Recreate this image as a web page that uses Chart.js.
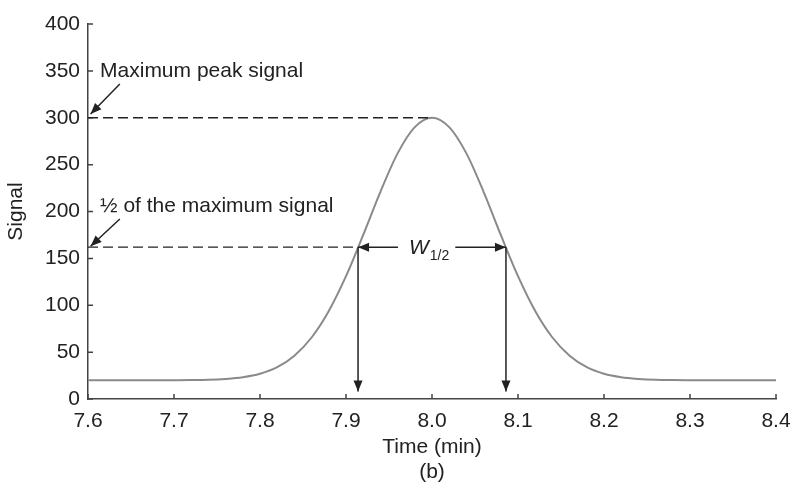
<!DOCTYPE html>
<html>
<head>
<meta charset="utf-8">
<script src="https://cdn.jsdelivr.net/npm/chart.js@4.4.0/dist/chart.umd.min.js"></script>
<style>
  html, body { margin: 0; padding: 0; background: #fff; }
  #wrap { width: 790px; height: 485px; }
</style>
</head>
<body>
<div id="wrap"><canvas id="chart-peak"></canvas></div>
<script>
// elution peak, time in minutes
var times = [7.60, 7.65, 7.70, 7.72, 7.74, 7.76, 7.78, 7.80, 7.82, 7.84, 7.86, 7.88,
             7.90, 7.92, 7.94, 7.96, 7.98, 8.00, 8.02, 8.04, 8.06, 8.08, 8.10, 8.12,
             8.14, 8.16, 8.18, 8.20, 8.22, 8.24, 8.26, 8.28, 8.30, 8.35, 8.40];
var signal = [20, 20, 20.1, 20.2, 20.5, 21.4, 23.2, 26.9, 33.9, 46.2, 65.6, 93.9,
              131, 175, 221, 262, 290, 300, 290, 262, 221, 175, 131, 93.9,
              65.6, 46.2, 33.9, 26.9, 23.2, 21.4, 20.5, 20.2, 20.1, 20, 20];
var xTicks = [7.6, 7.7, 7.8, 7.9, 8.0, 8.1, 8.2, 8.3, 8.4];
var yTicks = [0, 50, 100, 150, 200, 250, 300, 350, 400];

// marked levels and times
var peakTime = 8.0;
var peakSignal = 300;
var halfSignal = 162;
var halfTimes = [7.914, 8.086];

var FONT = "'Liberation Sans', Arial, sans-serif";
var INK = '#222';

function arrowHead(ctx, x1, y1, x2, y2) {
    var a = Math.atan2(y2 - y1, x2 - x1);
    var len = 11, w = 4.5;
    ctx.beginPath();
    ctx.moveTo(x2, y2);
    ctx.lineTo(x2 - len * Math.cos(a) + w * Math.sin(a), y2 - len * Math.sin(a) - w * Math.cos(a));
    ctx.lineTo(x2 - len * Math.cos(a) - w * Math.sin(a), y2 - len * Math.sin(a) + w * Math.cos(a));
    ctx.closePath();
    ctx.fill();
}

function arrow(ctx, x1, y1, x2, y2) {
    ctx.beginPath();
    ctx.moveTo(x1, y1);
    ctx.lineTo(x2, y2);
    ctx.stroke();
    arrowHead(ctx, x1, y1, x2, y2);
}

var annotations = {
    id: 'annotations',
    afterDraw: function (chart) {
        var ctx = chart.ctx;
        var x = chart.scales.x, y = chart.scales.y;
        var area = chart.chartArea;
        var px = function (v) { return x.getPixelForValue(v); };
        var py = function (v) { return y.getPixelForValue(v); };

        ctx.save();
        ctx.strokeStyle = '#444';
        ctx.lineWidth = 1.5;
        // inward tick marks
        ctx.beginPath();
        xTicks.forEach(function (t) {
            ctx.moveTo(px(t), area.bottom);
            ctx.lineTo(px(t), area.bottom - 5);
        });
        yTicks.forEach(function (t) {
            ctx.moveTo(area.left, py(t));
            ctx.lineTo(area.left + 5, py(t));
        });
        ctx.stroke();

        // dashed guide lines
        ctx.strokeStyle = INK;
        ctx.lineWidth = 1.3;
        ctx.setLineDash([10, 5]);
        ctx.beginPath();
        ctx.moveTo(px(7.6), py(peakSignal));
        ctx.lineTo(px(peakTime), py(peakSignal));
        ctx.moveTo(px(7.6), py(halfSignal));
        ctx.lineTo(px(halfTimes[0]), py(halfSignal));
        ctx.stroke();
        ctx.setLineDash([]);

        // arrows
        ctx.fillStyle = INK;
        ctx.lineWidth = 1.5;
        arrow(ctx, px(7.637), py(336), px(7.603), py(304));
        arrow(ctx, px(7.637), py(192), px(7.603), py(halfSignal + 1));
        halfTimes.forEach(function (t) {
            arrow(ctx, px(t), py(halfSignal), px(t), py(8));
        });

        // text labels
        ctx.font = '21px ' + FONT;
        ctx.textAlign = 'left';
        ctx.textBaseline = 'middle';
        ctx.fillText('Maximum peak signal', px(7.614), py(350));
        ctx.fillText('\u00bd of the maximum signal', px(7.614), py(206));

        // width at half height
        var base = py(halfSignal) + 7;
        var wx = px(peakTime) - 23;
        ctx.textBaseline = 'alphabetic';
        ctx.font = 'italic 21px ' + FONT;
        ctx.fillText('W', wx, base);
        var wW = ctx.measureText('W').width;
        ctx.font = '14px ' + FONT;
        ctx.fillText('1/2', wx + wW + 1, base + 6);
        var subW = ctx.measureText('1/2').width;
        var labelRight = wx + wW + 1 + subW;
        arrow(ctx, wx - 11, py(halfSignal), px(halfTimes[0]), py(halfSignal));
        arrow(ctx, labelRight + 6, py(halfSignal), px(halfTimes[1]), py(halfSignal));
        ctx.restore();
    }
};

var points = times.map(function (t, i) { return { x: t, y: signal[i] }; });

new Chart(document.getElementById('chart-peak'), {
    type: 'line',
    data: {
        datasets: [{
            data: points,
            borderColor: '#8a8a8a',
            borderWidth: 2,
            pointRadius: 0,
            fill: false,
            cubicInterpolationMode: 'monotone'
        }]
    },
    options: {
        responsive: true,
        maintainAspectRatio: false,
        animation: false,
        events: [],
        layout: { padding: { top: 24, right: 14, left: 0, bottom: 0 } },
        plugins: {
            legend: { display: false },
            tooltip: { enabled: false }
        },
        scales: {
            x: {
                type: 'linear',
                min: 7.6,
                max: 8.4,
                afterFit: function (scale) {
                    scale.height = 86;
                    scale.paddingLeft = 0;
                    scale.paddingRight = 0;
                },
                afterBuildTicks: function (scale) {
                    scale.ticks = xTicks.map(function (v) { return { value: v }; });
                },
                grid: { display: false, drawTicks: false },
                border: { display: true, color: '#444', width: 1.5 },
                ticks: {
                    color: INK,
                    padding: 10,
                    font: { family: FONT, size: 21 },
                    callback: function (v) { return Number(v).toFixed(1); }
                },
                title: {
                    display: true,
                    text: ['Time (min)', '(b)'],
                    color: INK,
                    padding: 0,
                    font: { family: FONT, size: 21, lineHeight: 1.2 }
                }
            },
            y: {
                min: 0,
                max: 400,
                afterFit: function (scale) { scale.width = 88; },
                afterBuildTicks: function (scale) {
                    scale.ticks = yTicks.map(function (v) { return { value: v }; });
                },
                grid: { display: false, drawTicks: false },
                border: { display: true, color: '#444', width: 1.5 },
                ticks: {
                    color: INK,
                    padding: 8,
                    font: { family: FONT, size: 21 }
                },
                title: {
                    display: true,
                    text: 'Signal',
                    color: INK,
                    padding: { top: 4, bottom: 0 },
                    font: { family: FONT, size: 21, lineHeight: 1.2 }
                }
            }
        }
    },
    plugins: [annotations]
});
</script>
</body>
</html>
